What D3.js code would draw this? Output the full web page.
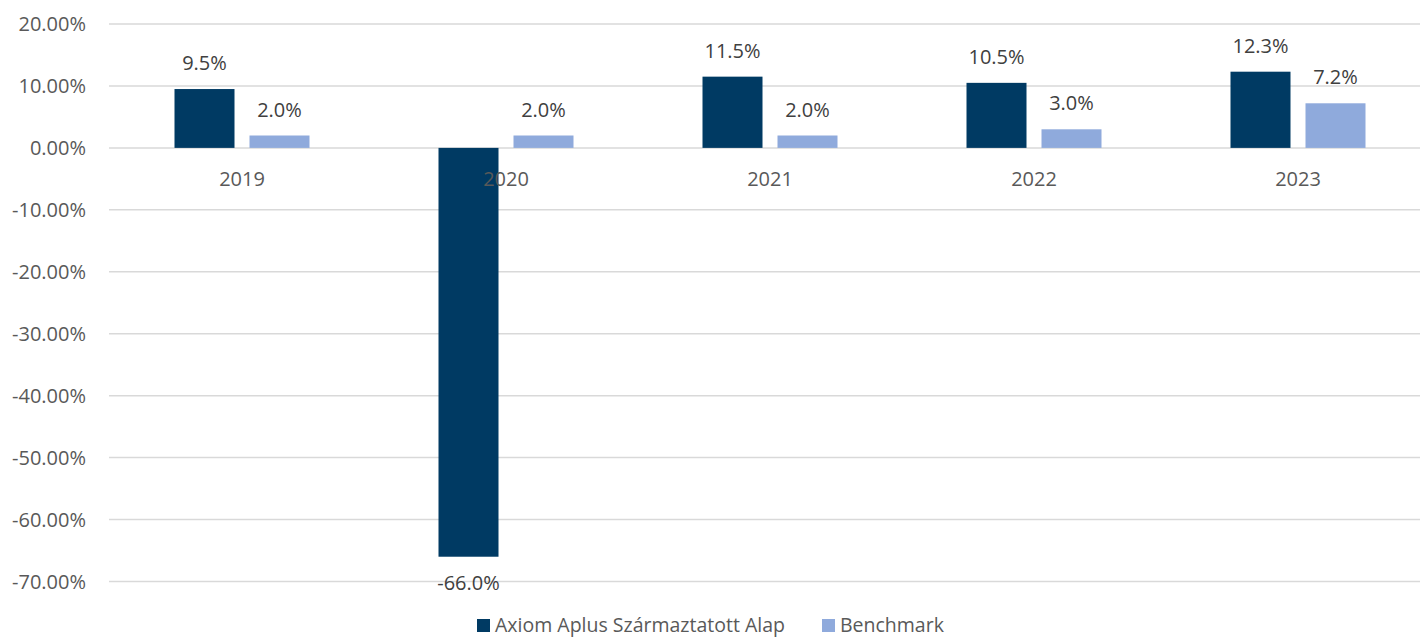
<!DOCTYPE html>
<html>
<head>
<meta charset="utf-8">
<script src="https://cdn.jsdelivr.net/npm/d3@7"></script>
<style>
  body { margin: 0; background: #fff; overflow: hidden; }
  text { font-family: "Open Sans", sans-serif; fill: #595959; }
</style>
</head>
<body>
<div id="chart"></div>
<script>
// chart data
var years = ["2019", "2020", "2021", "2022", "2023"];
var series_names = ["Axiom Aplus Származtatott Alap", "Benchmark"];
var fund_values = [9.5, -66.0, 11.5, 10.5, 12.3];
var bench_values = [2.0, 2.0, 2.0, 3.0, 7.2];
var y_ticks = [20, 10, 0, -10, -20, -30, -40, -50, -60, -70];
var colors = ["#003A63", "#8FAADC"];

var width = 1420, height = 641;

// d3.format gives a unicode minus, the original uses a plain hyphen
var fmt_axis = d => d3.format(".2f")(d).replace("\u2212", "-") + "%";
var fmt_label = d => d3.format(".1f")(d).replace("\u2212", "-") + "%";

var svg = d3.select("#chart").append("svg")
    .attr("width", width)
    .attr("height", height);

var y = d3.scaleLinear()
    .domain([-70, 20])
    .range([581.5, 24]);

var x0 = d3.scaleBand()
    .domain(years)
    .range([110, 1430]);

var x1 = d3.scaleBand()
    .domain(series_names)
    .range([0, 135])
    .paddingInner(0.2);

// gridlines
svg.append("g").selectAll("line")
    .data(y_ticks)
    .join("line")
    .attr("x1", 109)
    .attr("x2", width)
    .attr("y1", d => y(d))
    .attr("y2", d => y(d))
    .attr("stroke", "#D9D9D9")
    .attr("stroke-width", 1.5);

// y axis labels
svg.append("g").selectAll("text")
    .data(y_ticks)
    .join("text")
    .attr("x", 86)
    .attr("y", d => y(d))
    .attr("dy", "0.35em")
    .attr("text-anchor", "end")
    .style("font-size", "20px")
    .text(fmt_axis);

var rows = [];
years.forEach(function(yr, i) {
    rows.push({year: yr, name: series_names[0], value: fund_values[i], color: colors[0]});
    rows.push({year: yr, name: series_names[1], value: bench_values[i], color: colors[1]});
});

var group_off = (x0.bandwidth() - 135) / 2;

svg.append("g").selectAll("rect")
    .data(rows)
    .join("rect")
    .attr("x", d => x0(d.year) + group_off + x1(d.name))
    .attr("width", x1.bandwidth())
    .attr("y", d => y(Math.max(0, d.value)))
    .attr("height", d => Math.abs(y(d.value) - y(0)))
    .attr("fill", d => d.color);

// category labels (drawn over bars, like the original)
svg.append("g").selectAll("text")
    .data(years)
    .join("text")
    .attr("x", d => x0(d) + x0.bandwidth() / 2)
    .attr("y", 186)
    .attr("text-anchor", "middle")
    .style("font-size", "20px")
    .text(d => d);

// data labels
svg.append("g").selectAll("text")
    .data(rows)
    .join("text")
    .attr("x", d => x0(d.year) + group_off + x1(d.name) + x1.bandwidth() / 2)
    .attr("y", d => d.value >= 0 ? y(d.value) - 19 : y(d.value) + 33)
    .attr("text-anchor", "middle")
    .style("font-size", "20px")
    .style("fill", "#404040")
    .text(d => fmt_label(d.value));

// legend
var legend_x = [477, 822];
var legend = svg.append("g").selectAll("g")
    .data(series_names)
    .join("g")
    .attr("transform", (d, i) => "translate(" + legend_x[i] + ",618)");

legend.append("rect")
    .attr("y", 1)
    .attr("width", 13)
    .attr("height", 13)
    .attr("fill", (d, i) => colors[i]);

legend.append("text")
    .attr("x", 18)
    .attr("y", 14)
    .style("font-size", "19.5px")
    .text(d => d);
</script>
</body>
</html>
